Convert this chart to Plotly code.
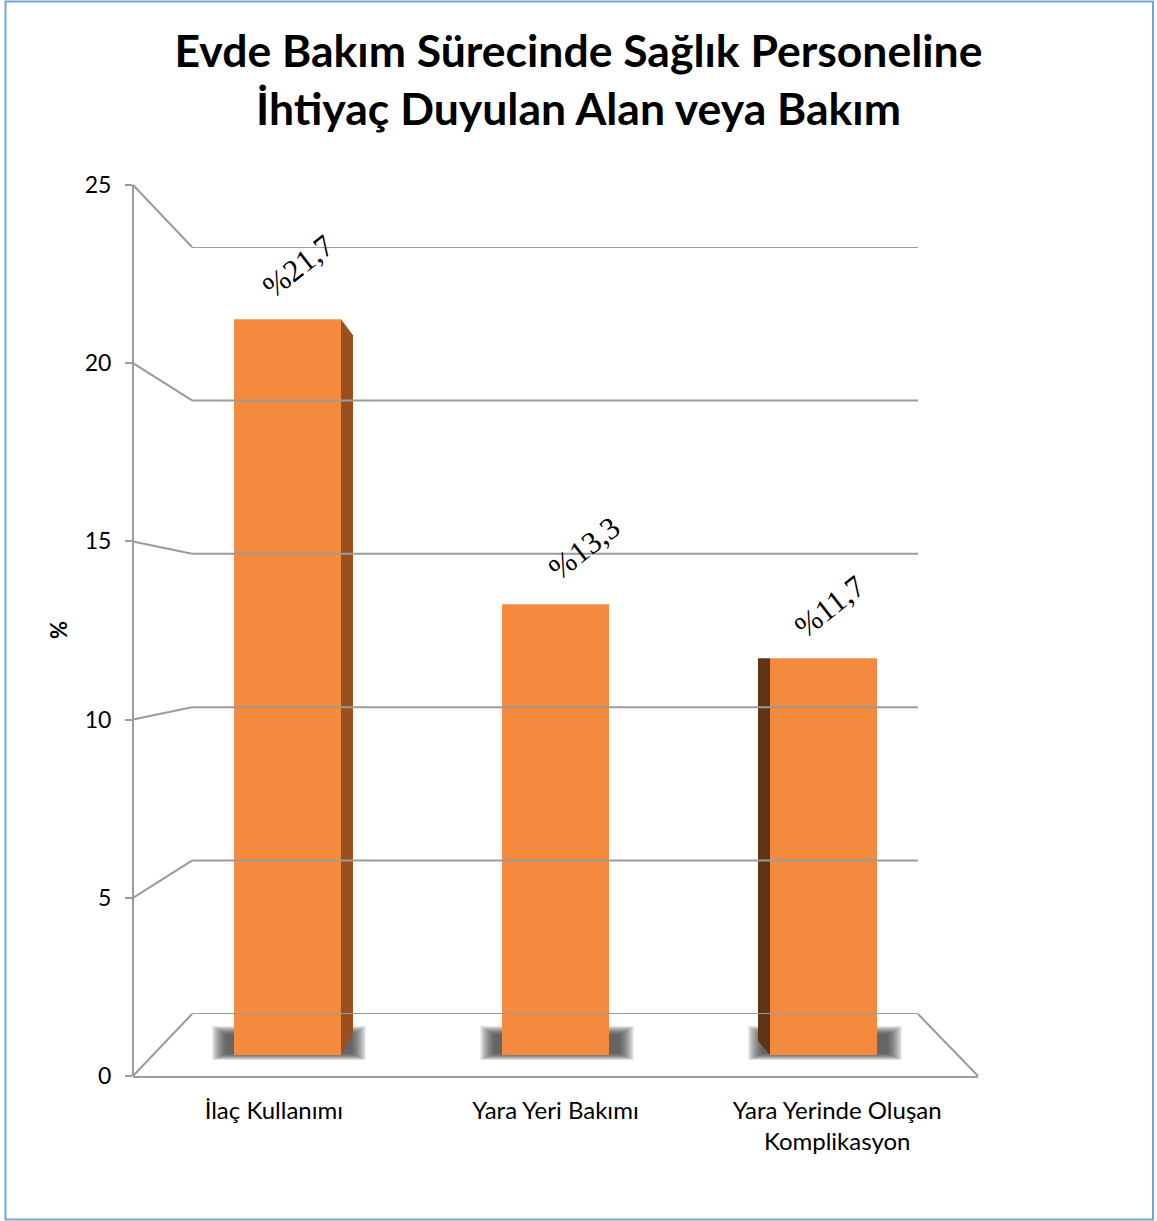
import plotly.graph_objects as go

# ---------------- data ----------------
categories = ["İlaç Kullanımı", "Yara Yeri Bakımı", "Yara Yerinde Oluşan<br>Komplikasyon"]
values = [21.7, 13.3, 11.7]
tick_values = [0, 5, 10, 15, 20, 25]
title_text = "<b>Evde Bakım Sürecinde Sağlık Personeline<br>İhtiyaç Duyulan Alan veya Bakım</b>"

# ---------------- layout constants (pixels) ----------------
W, H = 1157, 1221
FRONT_X, FRONT_Y0, FRONT_Y25 = 133, 1076, 185      # visible front value axis
BACK_X0, BACK_X1, BACK_Y0, BACK_Y25 = 192, 918, 1014, 247  # back wall
FLOOR_RIGHT = 978
BAR_BASE, BAR_PX_PER_UNIT = 1055, 33.9
BAR_FIRST_CENTER, BAR_STEP = 287.5, 268
BAR_HALF_PX = 53.5
YMAX = 25

def fx(p):
    return p / W

def fy(p):
    return 1 - p / H

def back_y(v):
    return BACK_Y0 - (BACK_Y0 - BACK_Y25) * v / YMAX

def front_y(v):
    return FRONT_Y0 - (FRONT_Y0 - FRONT_Y25) * v / YMAX

grid_col = "#9B9B9B"
bar_col = "#F38A3D"

fig = go.Figure()

# back-wall gridlines on their own axes (x3/y3)
for v in tick_values:
    fig.add_trace(go.Scatter(x=[0, 1], y=[v, v], mode="lines", xaxis="x3", yaxis="y3",
                             line=dict(color=grid_col, width=2), hoverinfo="skip", showlegend=False))

# bars
bar_top_px = BAR_BASE - YMAX * BAR_PX_PER_UNIT
xs = list(range(len(values)))
fig.add_trace(go.Bar(x=xs, y=values, marker=dict(color=bar_col, line=dict(width=0)),
                     width=2 * BAR_HALF_PX / BAR_STEP, xaxis="x", yaxis="y",
                     showlegend=False, hoverinfo="skip"))

# side faces of bars (3D effect), derived from values
unit_x = 1 / BAR_STEP          # data units per pixel along x
unit_y = 1 / BAR_PX_PER_UNIT   # data units per pixel along y
half_w = BAR_HALF_PX / BAR_STEP
side_specs = [(0, +1, "#9A4F1D", 16, 22), (2, -1, "#5E3416", 0, 14)]
for i, direction, col, top_drop, bottom_rise in side_specs:
    v = values[i]
    edge = i + direction * half_w
    outer = edge + direction * 12 * unit_x
    px_ = [edge, outer, outer, edge, edge]
    py_ = [v, v - top_drop * unit_y, bottom_rise * unit_y, 0, v]
    fig.add_trace(go.Scatter(x=px_, y=py_, mode="lines", fill="toself", fillcolor=col,
                             line=dict(width=0, color=col), xaxis="x", yaxis="y",
                             hoverinfo="skip", showlegend=False))

# front axis dummy trace so axis x2/y2 render
fig.add_trace(go.Scatter(x=categories, y=[None] * len(categories), xaxis="x2", yaxis="y2",
                         mode="markers", showlegend=False, hoverinfo="skip"))

shapes = []
# connectors from front ticks to back wall
for v in tick_values:
    shapes.append(dict(type="line", xref="paper", yref="paper",
                       x0=fx(FRONT_X), y0=fy(front_y(v)), x1=fx(BACK_X0), y1=fy(back_y(v)),
                       line=dict(color=grid_col, width=2)))
# floor right diagonal
shapes.append(dict(type="line", xref="paper", yref="paper",
                   x0=fx(BACK_X1), y0=fy(back_y(0)), x1=fx(FLOOR_RIGHT), y1=fy(front_y(0)),
                   line=dict(color=grid_col, width=2)))
# soft shadows under bars (many faint layered rectangles)
for i, v in enumerate(values):
    cx = BAR_FIRST_CENTER + BAR_STEP * i
    L, R = cx - BAR_HALF_PX - 22, cx + BAR_HALF_PX + 25
    T, B = BAR_BASE - 29, BAR_BASE + 5
    for k in range(16):
        s = k * 0.95
        shapes.append(dict(type="rect", xref="paper", yref="paper", layer="below",
                           x0=fx(L + s), x1=fx(R - s),
                           y0=fy(B - s * 0.45), y1=fy(T + s * 0.6),
                           fillcolor="rgba(60,60,60,0.085)", line=dict(width=0)))
# outer border
shapes.append(dict(type="rect", xref="paper", yref="paper",
                   x0=fx(5.5), x1=fx(1153), y0=fy(1219.5), y1=fy(1.5),
                   line=dict(color="#6FA5DC", width=2)))

annotations = []
label_dx = [10, 28, 6]
label_dy = [53, 56, 52]
for i, v in enumerate(values):
    annotations.append(dict(x=i, y=v, xref="x", yref="y",
                            text="%" + f"{v:.1f}".replace(".", ","),
                            showarrow=False, textangle=-38, xshift=label_dx[i], yshift=label_dy[i],
                            font=dict(family="Liberation Serif", size=31, color="black")))
annotations.append(dict(x=fx(58), y=fy(630), xref="paper", yref="paper", text="<b>%</b>",
                        showarrow=False, textangle=-90, xanchor="center", yanchor="middle",
                        font=dict(family="Lato", size=22, color="black")))

fig.update_layout(
    template="none",
    width=W, height=H, margin=dict(l=0, r=0, t=0, b=0, pad=0, autoexpand=False),
    paper_bgcolor="white", plot_bgcolor="rgba(0,0,0,0)", showlegend=False,
    title=dict(text=title_text, x=0.5, xanchor="center", y=fy(67), yanchor="middle",
               font=dict(family="Lato", size=44.5, color="black")),
    bargap=0.6,
    xaxis=dict(domain=[fx(BAR_FIRST_CENTER - BAR_STEP / 2), fx(BAR_FIRST_CENTER + BAR_STEP * 2.5)],
               range=[-0.5, 2.5], visible=False, automargin=False),
    yaxis=dict(domain=[fy(BAR_BASE), fy(bar_top_px)], range=[0, YMAX], visible=False,
               automargin=False),
    xaxis2=dict(domain=[fx(FRONT_X), fx(FLOOR_RIGHT)], anchor="y2", type="category",
                range=[-0.5, 2.5], automargin=False,
                showline=True, linecolor=grid_col, linewidth=2, showgrid=False, ticks="",
                zeroline=False,
                tickfont=dict(family="Lato", size=24, color="black"), ticklabelstandoff=12),
    yaxis2=dict(domain=[fy(FRONT_Y0), fy(FRONT_Y25)], range=[0, YMAX], anchor="free",
                position=fx(FRONT_X), tickvals=tick_values, showline=True, linecolor=grid_col,
                linewidth=2, ticks="outside", ticklen=7, tickcolor=grid_col, tickwidth=2,
                showgrid=False, zeroline=False, ticklabelstandoff=9, automargin=False,
                tickfont=dict(family="Lato", size=23, color="black")),
    xaxis3=dict(domain=[fx(BACK_X0), fx(BACK_X1)], range=[0, 1], visible=False, anchor="y3",
                automargin=False),
    yaxis3=dict(domain=[fy(BACK_Y0), fy(BACK_Y25)], range=[0, YMAX], visible=False, anchor="x3",
                automargin=False),
    shapes=shapes, annotations=annotations,
)

fig.write_html("out.html")
